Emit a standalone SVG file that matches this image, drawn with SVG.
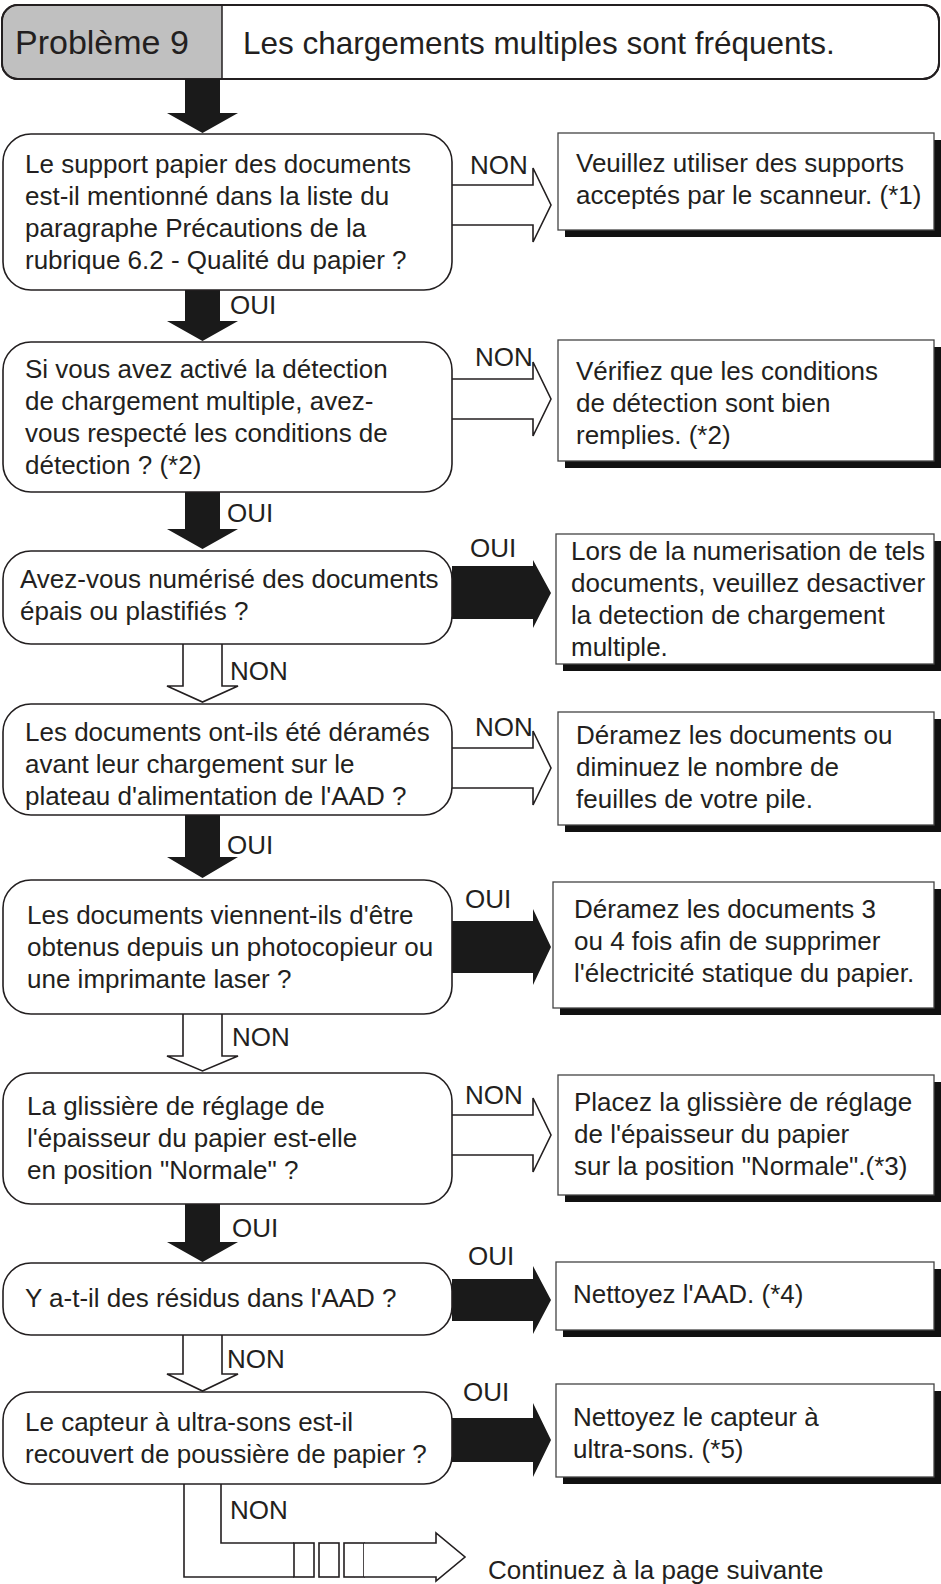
<svg xmlns="http://www.w3.org/2000/svg" width="941" height="1584" viewBox="0 0 941 1584">
<style>
.t{font-family:"Liberation Sans",Arial,sans-serif;font-size:26px;fill:#231f20}
.h{font-family:"Liberation Sans",Arial,sans-serif;font-size:31.5px;fill:#231f20}
.dec{fill:#fff;stroke:#231f20;stroke-width:1.6}
.sol{fill:#fff;stroke:#444;stroke-width:1.3}
.sh{fill:#111}
.blk{fill:#1a1a1a}
.hol{fill:#fff;stroke:#231f20;stroke-width:1.6;stroke-linejoin:miter}
</style>
<rect width="941" height="1584" fill="#fff"/>
<g id="header">
<rect x="2" y="5" width="937" height="74" rx="16" fill="#fff" stroke="#231f20" stroke-width="2"/>
<path d="M222 6 H18 A15 15 0 0 0 3 21 V63 A15 15 0 0 0 18 78 H222 Z" fill="#c0c0c0"/>
<rect x="2" y="5" width="937" height="74" rx="16" fill="none" stroke="#231f20" stroke-width="2"/>
<line x1="222" y1="5" x2="222" y2="79" stroke="#231f20" stroke-width="1.5"/>
<text class="h" x="15" y="54" style="font-size:34px">Problème 9</text>
<text class="h" x="243" y="54">Les chargements multiples sont fréquents.</text>
</g>
<g id="connectors">
<path class="blk" d="M185 79 H220 V113 H238 L202.5 133 L167 113 H185 Z"/>
<path class="blk" d="M185 290 H220 V321 H238 L202.5 341 L167 321 H185 Z"/>
<path class="blk" d="M185 492 H220 V529 H238 L202.5 549 L167 529 H185 Z"/>
<path class="blk" d="M185 815 H220 V857 H238 L202.5 878 L167 857 H185 Z"/>
<path class="blk" d="M185 1204 H220 V1242 H238 L202.5 1262 L167 1242 H185 Z"/>
<path class="hol" d="M183 644 V686 H167 L202.5 702 L238 686 H222 V644"/>
<path class="hol" d="M183 1014 V1056 H167 L202.5 1071 L238 1056 H222 V1014"/>
<path class="hol" d="M183 1335 V1374 H167 L202.5 1391 L238 1374 H222 V1335"/>
<path class="hol" d="M452 185 H533 V168 L551 205 L533 242 V225 H452"/>
<path class="hol" d="M452 379 H533 V362 L551 399 L533 436 V419 H452"/>
<path class="blk" d="M452 566 H533 V560 L551 593 L533 628 V619 H452 Z"/>
<path class="hol" d="M452 748 H533 V731 L551 768 L533 805 V788 H452"/>
<path class="blk" d="M452 921 H533 V909 L551 947 L533 985 V973 H452 Z"/>
<path class="hol" d="M452 1115 H533 V1098 L551 1135 L533 1172 V1155 H452"/>
<path class="blk" d="M452 1279 H533 V1266 L551 1300 L533 1334 V1321 H452 Z"/>
<path class="blk" d="M452 1418 H533 V1403 L551 1440 L533 1477 V1462 H452 Z"/>
<path class="hol" fill="none" d="M184 1484 V1577 H294"/>
<path class="hol" fill="none" d="M221 1484 V1543 H294"/>
<rect class="hol" x="294" y="1543" width="20" height="34"/>
<rect class="hol" x="319" y="1543" width="20" height="34"/>
<rect class="hol" x="344" y="1543" width="20" height="34"/>
<path class="hol" d="M364 1543 H436 V1533 L465 1557 L436 1581 V1577 H364"/>
<text class="t" x="470" y="174">NON</text>
<text class="t" x="230" y="314">OUI</text>
<text class="t" x="475" y="366">NON</text>
<text class="t" x="227" y="522">OUI</text>
<text class="t" x="470" y="557">OUI</text>
<text class="t" x="230" y="680">NON</text>
<text class="t" x="475" y="736">NON</text>
<text class="t" x="227" y="854">OUI</text>
<text class="t" x="465" y="908">OUI</text>
<text class="t" x="232" y="1046">NON</text>
<text class="t" x="465" y="1104">NON</text>
<text class="t" x="232" y="1237">OUI</text>
<text class="t" x="468" y="1265">OUI</text>
<text class="t" x="227" y="1368">NON</text>
<text class="t" x="463" y="1401">OUI</text>
<text class="t" x="230" y="1519">NON</text>
<text class="t" x="488" y="1579">Continuez à la page suivante</text>
</g>
<g id="q1">
<rect class="dec" x="3" y="134" width="449" height="156" rx="28"/>
<text class="t" x="25" y="173">Le support papier des documents</text>
<text class="t" x="25" y="205">est-il mentionné dans la liste du</text>
<text class="t" x="25" y="237">paragraphe Précautions de la</text>
<text class="t" x="25" y="269">rubrique 6.2 - Qualité du papier ?</text>
</g>
<g id="s1">
<rect class="sh" x="565" y="140" width="376" height="97"/>
<rect class="sol" x="558" y="133" width="376" height="97"/>
<text class="t" x="576" y="172">Veuillez utiliser des supports</text>
<text class="t" x="576" y="204">acceptés par le scanneur. (*1)</text>
</g>
<g id="q2">
<rect class="dec" x="3" y="342" width="449" height="150" rx="28"/>
<text class="t" x="25" y="378">Si vous avez activé la détection</text>
<text class="t" x="25" y="410">de chargement multiple, avez-</text>
<text class="t" x="25" y="442">vous respecté les conditions de</text>
<text class="t" x="25" y="474">détection ? (*2)</text>
</g>
<g id="s2">
<rect class="sh" x="565" y="347" width="376" height="121"/>
<rect class="sol" x="558" y="340" width="376" height="121"/>
<text class="t" x="576" y="380">Vérifiez que les conditions</text>
<text class="t" x="576" y="412">de détection sont bien</text>
<text class="t" x="576" y="444">remplies. (*2)</text>
</g>
<g id="q3">
<rect class="dec" x="3" y="551" width="449" height="93" rx="28"/>
<text class="t" x="20" y="588">Avez-vous numérisé des documents</text>
<text class="t" x="20" y="620">épais ou plastifiés ?</text>
</g>
<g id="s3">
<rect class="sh" x="563" y="541" width="378" height="130"/>
<rect class="sol" x="556" y="534" width="378" height="130"/>
<text class="t" x="571" y="560">Lors de la numerisation de tels</text>
<text class="t" x="571" y="592">documents, veuillez desactiver</text>
<text class="t" x="571" y="624">la detection de chargement</text>
<text class="t" x="571" y="656">multiple.</text>
</g>
<g id="q4">
<rect class="dec" x="3" y="704" width="449" height="111" rx="28"/>
<text class="t" x="25" y="741">Les documents ont-ils été déramés</text>
<text class="t" x="25" y="773">avant leur chargement sur le</text>
<text class="t" x="25" y="805">plateau d'alimentation de l'AAD ?</text>
</g>
<g id="s4">
<rect class="sh" x="565" y="719" width="376" height="113"/>
<rect class="sol" x="558" y="712" width="376" height="113"/>
<text class="t" x="576" y="744">Déramez les documents ou</text>
<text class="t" x="576" y="776">diminuez le nombre de</text>
<text class="t" x="576" y="808">feuilles de votre pile.</text>
</g>
<g id="q5">
<rect class="dec" x="3" y="880" width="449" height="134" rx="28"/>
<text class="t" x="27" y="924">Les documents viennent-ils d'être</text>
<text class="t" x="27" y="956">obtenus depuis un photocopieur ou</text>
<text class="t" x="27" y="988">une imprimante laser ?</text>
</g>
<g id="s5">
<rect class="sh" x="560" y="889" width="381" height="126"/>
<rect class="sol" x="553" y="882" width="381" height="126"/>
<text class="t" x="574" y="918">Déramez les documents 3</text>
<text class="t" x="574" y="950">ou 4 fois afin de supprimer</text>
<text class="t" x="574" y="982">l'électricité statique du papier.</text>
</g>
<g id="q6">
<rect class="dec" x="3" y="1073" width="449" height="131" rx="28"/>
<text class="t" x="27" y="1115">La glissière de réglage de</text>
<text class="t" x="27" y="1147">l'épaisseur du papier est-elle</text>
<text class="t" x="27" y="1179">en position "Normale" ?</text>
</g>
<g id="s6">
<rect class="sh" x="565" y="1082" width="376" height="120"/>
<rect class="sol" x="558" y="1075" width="376" height="120"/>
<text class="t" x="574" y="1111">Placez la glissière de réglage</text>
<text class="t" x="574" y="1143">de l'épaisseur du papier</text>
<text class="t" x="574" y="1175">sur la position "Normale".(*3)</text>
</g>
<g id="q7">
<rect class="dec" x="3" y="1263" width="449" height="72" rx="28"/>
<text class="t" x="25" y="1307">Y a-t-il des résidus dans l'AAD ?</text>
</g>
<g id="s7">
<rect class="sh" x="563" y="1269" width="378" height="68"/>
<rect class="sol" x="556" y="1262" width="378" height="68"/>
<text class="t" x="573" y="1303">Nettoyez l'AAD. (*4)</text>
</g>
<g id="q8">
<rect class="dec" x="3" y="1392" width="449" height="92" rx="28"/>
<text class="t" x="25" y="1431">Le capteur à ultra-sons est-il</text>
<text class="t" x="25" y="1463">recouvert de poussière de papier ?</text>
</g>
<g id="s8">
<rect class="sh" x="563" y="1391" width="378" height="93"/>
<rect class="sol" x="556" y="1384" width="378" height="93"/>
<text class="t" x="573" y="1426">Nettoyez le capteur à</text>
<text class="t" x="573" y="1458">ultra-sons. (*5)</text>
</g>
</svg>
